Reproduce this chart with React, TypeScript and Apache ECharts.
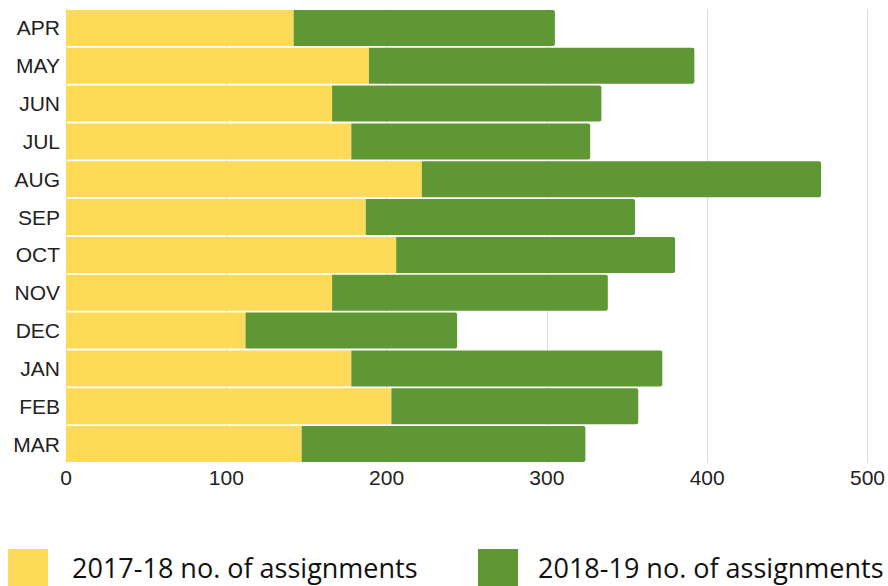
import React, { useEffect, useRef } from "react";
import * as echarts from "echarts";

const months = ["APR", "MAY", "JUN", "JUL", "AUG", "SEP", "OCT", "NOV", "DEC", "JAN", "FEB", "MAR"];
const series1Name = "2017-18 no. of assignments";
const series2Name = "2018-19 no. of assignments";
const values2017 = [142, 189, 166, 178, 222, 187, 206, 166, 112, 178, 203, 147];
const values2018 = [163, 203, 168, 149, 249, 168, 174, 172, 132, 194, 154, 177];
const xTicks = [0, 100, 200, 300, 400, 500];

export default function App() {
  const ref = useRef<HTMLDivElement>(null);
  useEffect(() => {
    document.body.style.margin = "0";
    const chart = echarts.init(ref.current!, null, { renderer: "svg" });
    const legendText = { fontFamily: "Open Sans", fontSize: 27, color: "#111" };
    chart.setOption({
      animation: false,
      grid: { left: 66, right: 20, top: 9, bottom: 123, containLabel: false },
      xAxis: {
        type: "value",
        min: xTicks[0],
        max: xTicks[xTicks.length - 1],
        interval: 100,
        axisLine: { show: false },
        axisTick: { show: false },
        axisLabel: { fontFamily: "Liberation Sans", fontSize: 21, color: "#222", margin: 4 },
        splitLine: { lineStyle: { color: "#dcdcdc", width: 1 } },
      },
      yAxis: {
        type: "category",
        data: months,
        inverse: true,
        axisLine: { show: false },
        axisTick: { show: false },
        axisLabel: { fontFamily: "Liberation Sans", fontSize: 21, color: "#222", margin: 6 },
      },
      legend: [
        {
          data: [series1Name],
          left: 8,
          top: 549,
          padding: 0,
          itemWidth: 40,
          itemHeight: 37,
          itemGap: 0,
          icon: "rect",
          textStyle: { ...legendText, padding: [0, 0, 0, 19] },
          selectedMode: false,
        },
        {
          data: [series2Name],
          left: 478,
          top: 549,
          padding: 0,
          itemWidth: 40,
          itemHeight: 37,
          itemGap: 0,
          icon: "rect",
          textStyle: { ...legendText, padding: [0, 0, 0, 15] },
          selectedMode: false,
        },
      ],
      series: [
        {
          name: series1Name,
          type: "bar",
          stack: "total",
          data: values2017,
          barCategoryGap: "5%",
          itemStyle: { color: "#FDDB58" },
        },
        {
          name: series2Name,
          type: "bar",
          stack: "total",
          data: values2018,
          barCategoryGap: "5%",
          itemStyle: { color: "#5E9733", borderRadius: [0, 2, 2, 0] },
        },
      ],
    });
    return () => chart.dispose();
  }, []);
  return <div ref={ref} style={{ width: 888, height: 586 }} />;
}
